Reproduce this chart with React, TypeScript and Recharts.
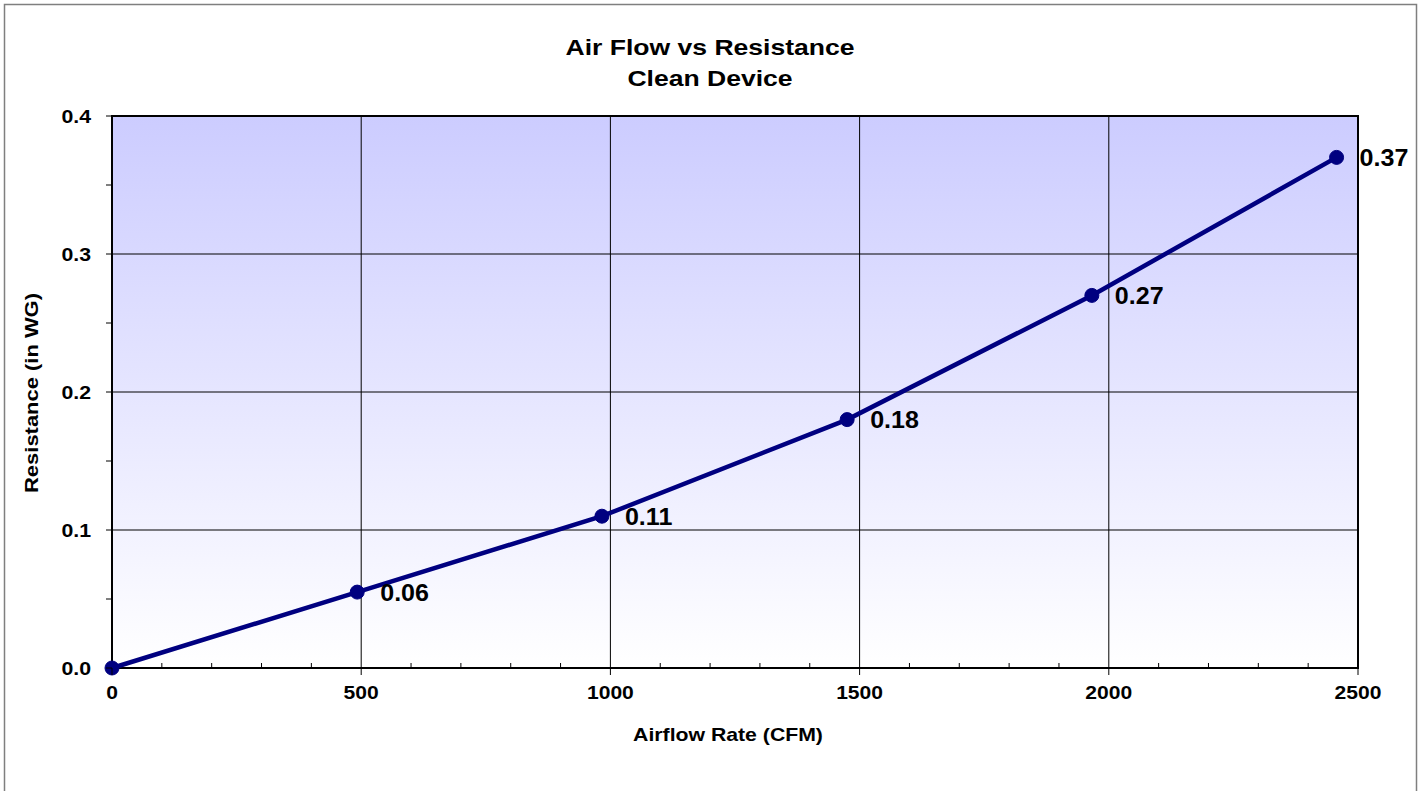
import React from 'react';
import {
  LineChart, Line, XAxis, YAxis, CartesianGrid, ReferenceArea, LabelList
} from 'recharts';

// Readings taken off the reference chart
const airflowCfm = [0, 492, 983, 1475, 1966, 2457];
const resistanceWg = [0, 0.055, 0.11, 0.18, 0.27, 0.37];

const xTicks = [0, 100, 200, 300, 400, 500, 600, 700, 800, 900, 1000, 1100, 1200, 1300, 1400, 1500,
  1600, 1700, 1800, 1900, 2000, 2100, 2200, 2300, 2400, 2500];
const xMajorTicks = [0, 500, 1000, 1500, 2000, 2500];
const yTicks = [0, 0.05, 0.1, 0.15, 0.2, 0.25, 0.3, 0.35, 0.4];
const yMajorTicks = [0, 0.1, 0.2, 0.3, 0.4];
const xGridValues = [500, 1000, 1500, 2000];
const yGridValues = [0.1, 0.2, 0.3];

const titleLines = ['Air Flow vs Resistance', 'Clean Device'];
const xAxisTitle = 'Airflow Rate (CFM)';
const yAxisTitle = 'Resistance (in WG)';

const data = airflowCfm.map((cfm, i) => ({ cfm, wg: resistanceWg[i] }));

const FONT = '"Liberation Sans", Arial, Helvetica, sans-serif';
const NAVY = '#000080';

// bold text, stretched sideways a little like the old GDI rendering
const WideText = ({ x, y, size, sx, anchor = 'start', rotate = 0, children }: any) => (
  <text transform={`translate(${x} ${y}) rotate(${rotate}) scale(${sx} 1)`} textAnchor={anchor}
    fontFamily={FONT} fontWeight="bold" fontSize={size} fill="#000">
    {children}
  </text>
);

const XTick = (props: any) => {
  const { x, y, payload } = props;
  const v = payload.value;
  const major = xMajorTicks.includes(v);
  return (
    <g>
      <line x1={x} x2={x} y1={y} y2={major ? y + 7 : y - 5} stroke="#000" strokeWidth={1} />
      {major && <WideText x={x} y={y + 31} size={18.5} sx={1.14} anchor="middle">{v}</WideText>}
    </g>
  );
};

const YTick = (props: any) => {
  const { x, y, payload } = props;
  const v = payload.value;
  const major = yMajorTicks.includes(v);
  return (
    <g>
      <line x1={x - 6} x2={x} y1={y} y2={y} stroke="#000" strokeWidth={1} />
      {major && <WideText x={x - 21} y={y + 7} size={19} sx={1.12} anchor="end">{v.toFixed(1)}</WideText>}
    </g>
  );
};

const PointLabel = (props: any) => {
  const { x, y, value } = props;
  if (!value) return null;
  return (
    <WideText x={x + 23} y={y + 8.5} size={23} sx={1.09}>
      {(Math.round(value * 100) / 100).toFixed(2)}
    </WideText>
  );
};

export default function App() {
  return (
    <div style={{ position: 'absolute', left: 0, top: 0, width: 1423, height: 791, background: '#fff', overflow: 'hidden' }}>
      <LineChart width={1423} height={791} data={data}
        margin={{ top: 116, right: 65, bottom: 83, left: 52 }}>
        <defs>
          <linearGradient id="plotBg" x1="0" y1="0" x2="0" y2="1">
            <stop offset="0%" stopColor="#CCCCFF" />
            <stop offset="100%" stopColor="#FFFFFF" />
          </linearGradient>
        </defs>
        <CartesianGrid fill="url(#plotBg)" fillOpacity={1} stroke="#000" strokeWidth={1}
          verticalValues={xGridValues} horizontalValues={yGridValues} />
        <XAxis dataKey="cfm" type="number" domain={[0, 2500]} ticks={xTicks} interval={0}
          height={40} axisLine={false} tickLine={false} tickSize={0} tickMargin={0}
          tick={<XTick />} />
        <YAxis type="number" domain={[0, 0.4]} ticks={yTicks} interval={0}
          width={60} axisLine={false} tickLine={false} tickSize={0} tickMargin={0}
          tick={<YTick />} />
        <ReferenceArea x1={0} x2={2500} y1={0} y2={0.4} fill="none" fillOpacity={0}
          stroke="#000" strokeWidth={2} />
        <Line type="linear" dataKey="wg" stroke={NAVY} strokeWidth={4.5}
          dot={{ r: 7, fill: NAVY, stroke: NAVY, strokeWidth: 1 }} activeDot={false}
          isAnimationActive={false}>
          <LabelList dataKey="wg" content={<PointLabel />} />
        </Line>
      </LineChart>
      <svg width={1423} height={791} style={{ position: 'absolute', left: 0, top: 0, pointerEvents: 'none' }}>
        <rect x={4.5} y={4.5} width={1412} height={820} fill="none" stroke="#7f7f7f" strokeWidth={1.5} />
        {titleLines.map((t, i) => (
          <WideText key={t} x={710} y={55 + i * 31} size={22.5} sx={1.18} anchor="middle">{t}</WideText>
        ))}
        <WideText x={728} y={741} size={18} sx={1.18} anchor="middle">{xAxisTitle}</WideText>
        <WideText x={38} y={393} size={18} sx={1.22} anchor="middle" rotate={-90}>{yAxisTitle}</WideText>
      </svg>
    </div>
  );
}
